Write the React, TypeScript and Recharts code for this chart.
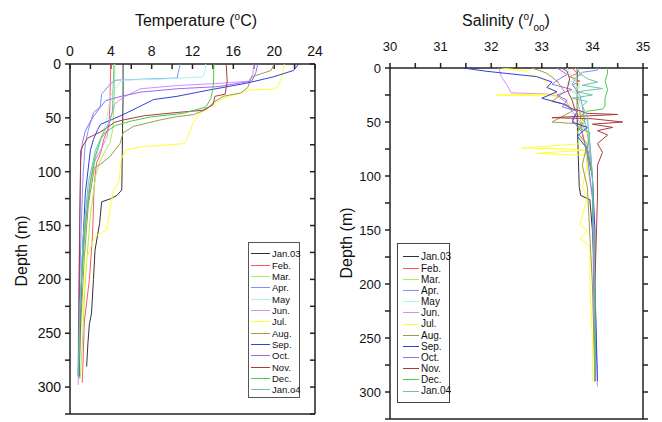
import React from "react";
import { ScatterChart, Scatter, XAxis, YAxis } from "recharts";

// series names / colours (same order in both panels)
const namesT = ["Jan.03", "Feb.", "Mar.", "Apr.", "May", "Jun.", "Jul.", "Aug.", "Sep.", "Oct.", "Nov.", "Dec.", "Jan.o4"];
const namesS = ["Jan.03", "Feb.", "Mar.", "Apr.", "May", "Jun.", "Jul.", "Aug.", "Sep.", "Oct.", "Nov.", "Dec.", "Jan.04"];
const colors = ["#333333", "#ff5a5a", "#a6f05a", "#7b93ff", "#a8f5ee", "#d78cff", "#ffff33", "#9c9c4a", "#3340d9", "#9a6cf0", "#a83c3c", "#4cc94c", "#6cc4a8"];

// temperature profiles: [depth, temp]
const tJan03 = [[0, 5.2], [30, 5.2], [60, 5.15], [100, 5.1], [117, 5.07], [122, 4.6], [125, 4.0], [128, 3.1], [148, 2.9], [173, 2.45], [200, 2.3], [232, 2.1], [241, 1.9], [260, 1.75], [281, 1.63]];
const tFeb = [[0, 4.0], [20, 3.95], [42, 3.9], [58, 3.8], [70, 3.3], [83, 3.0], [92, 2.6], [105, 2.45], [117, 2.35], [160, 2.2], [200, 1.9], [240, 1.4], [270, 1.3], [296, 1.2]];
const tMar = [[0, 4.4], [30, 4.35], [60, 4.2], [74, 3.9], [80, 3.5], [89, 3.0], [104, 2.5], [140, 2.0], [200, 1.5], [260, 1.2], [292, 1.0]];
const tApr = [[0, 10.8], [8, 10.6], [13, 10.5], [15, 4.5], [18, 4.0], [28, 3.1], [40, 2.95], [45, 2.3], [61, 1.8], [74, 1.5], [100, 1.3], [150, 1.1], [220, 0.9], [290, 0.8]];
const tMay = [[0, 13.3], [8, 13.2], [12, 13.0], [14, 9.0], [15, 5.1], [23, 4.4], [31, 3.9], [40, 3.8], [55, 3.5], [75, 2.9], [100, 2.2], [150, 1.5], [200, 1.1], [250, 0.9], [290, 0.8]];
const tJun = [[0, 18.0], [10, 17.9], [16, 17.5], [18, 14.6], [20, 10.5], [23, 6.9], [31, 5.2], [37, 4.4], [49, 4.0], [68, 3.6], [80, 3.0], [92, 2.3], [120, 1.8], [170, 1.3], [230, 1.0], [298, 0.8]];
const tJul = [[0, 21.0], [10, 20.8], [21, 20.4], [23.5, 19.8], [24, 17.5], [33, 14.7], [46, 12.7], [54, 12.1], [71, 11.4], [74, 11.1], [77, 6.9], [80, 5.4], [89, 5.0], [110, 4.8], [117, 4.25], [136, 3.9], [154, 3.6], [160, 2.45], [168, 2.1], [182, 1.6], [219, 1.3], [256, 1.0], [290, 0.82]];
const tAug = [[0, 20.0], [6, 19.7], [12, 17.8], [22, 17.4], [27, 16.7], [30, 15.0], [36, 14.0], [42, 13.4], [47, 12.1], [49, 10.4], [52, 8.8], [58, 6.2], [64, 5.2], [74, 4.9], [86, 3.9], [93, 3.0], [96, 2.4], [130, 1.8], [180, 1.4], [250, 1.0], [292, 0.9]];
const tSep = [[0, 22.4], [6, 21.9], [12, 19.9], [18, 17.2], [24, 13.7], [30, 10.5], [33, 8.2], [41, 6.5], [47, 5.2], [52, 4.0], [56, 3.0], [61, 2.7], [70, 2.3], [80, 2.0], [120, 1.5], [180, 1.2], [240, 1.0], [290, 0.9]];
const tOct = [[0, 18.4], [8, 18.2], [16, 17.8], [21, 14.5], [23, 10.5], [26, 7.0], [30, 5.0], [34, 3.5], [41, 2.9], [50, 2.2], [62, 1.5], [74, 1.2], [90, 1.05], [150, 0.95], [220, 0.85], [289, 0.8]];
const tNov = [[0, 15.3], [16, 15.4], [28, 15.2], [30, 14.2], [38, 14.0], [43, 13.0], [45, 10.5], [48, 7.3], [52, 5.2], [54, 4.4], [63, 3.0], [69, 1.7], [77, 1.2], [80, 1.05], [150, 0.95], [220, 0.9], [288, 0.85]];
const tDec = [[0, 14.1], [20, 14.05], [32, 13.8], [40, 13.3], [46, 11.0], [49, 8.0], [53, 6.0], [57, 4.5], [63, 3.5], [70, 3.0], [85, 2.5], [110, 2.0], [150, 1.5], [220, 1.0], [290, 0.8]];
const tJan04 = [[0, 4.3], [45, 4.15], [55, 3.8], [65, 3.2], [80, 2.5], [110, 1.8], [160, 1.3], [220, 1.0], [290, 0.85]];

// salinity profiles: [depth, salinity]
const sJan03 = [[0, 33.7], [20, 33.7], [50, 33.7], [80, 33.72], [110, 33.74], [118, 33.77], [122, 33.95], [150, 34.0], [200, 34.05], [250, 34.05], [280, 34.05]];
const sFeb = [[0, 33.6], [5, 33.7], [8, 33.55], [12, 33.75], [16, 33.6], [20, 33.7], [30, 33.7], [40, 33.75], [50, 33.78], [60, 33.8], [80, 33.9], [100, 34.0], [150, 34.02], [200, 34.05], [285, 34.05]];
const sMar = [[0, 33.65], [6, 33.8], [10, 33.6], [15, 33.75], [22, 33.65], [30, 33.75], [40, 33.7], [50, 33.8], [60, 33.7], [70, 33.85], [90, 33.9], [120, 34.0], [200, 34.04], [290, 34.05]];
const sApr = [[0, 34.1], [2, 34.1], [4, 33.8], [8, 33.7], [15, 33.6], [25, 33.75], [35, 33.8], [50, 33.85], [70, 33.95], [100, 34.0], [200, 34.05], [290, 34.05]];
const sMay = [[0, 33.5], [5, 33.55], [10, 33.7], [14, 33.5], [18, 33.75], [22, 33.6], [27, 33.8], [35, 33.7], [50, 33.9], [100, 34.0], [200, 34.05], [290, 34.05]];
const sJun = [[0, 32.15], [8, 32.2], [15, 32.3], [23, 32.4], [24, 33.1], [26, 33.3], [32, 33.5], [40, 33.6], [50, 33.75], [60, 33.9], [100, 34.0], [200, 34.05], [295, 34.1]];
const sJul = [[0, 32.2], [1, 32.4], [3, 32.7], [7, 32.8], [9, 33.0], [15, 33.1], [20, 33.2], [24, 33.3], [25, 32.1], [26, 33.3], [30, 33.5], [40, 33.7], [50, 33.8], [60, 33.9], [70, 33.8], [74, 32.6], [75, 33.5], [76, 33.9], [79, 32.9], [81, 33.9], [90, 33.9], [110, 33.8], [120, 33.9], [145, 33.75], [150, 33.9], [158, 33.75], [165, 33.95], [200, 33.95], [250, 34.0], [290, 34.0]];
const sAug = [[0, 32.8], [3, 33.0], [5, 33.1], [12, 33.3], [22, 33.45], [31, 33.2], [34, 33.5], [40, 33.6], [50, 33.2], [52, 33.8], [60, 33.7], [70, 33.9], [90, 33.8], [110, 33.9], [200, 34.0], [290, 34.05]];
const sSep = [[0, 31.45], [3, 31.9], [5, 32.3], [8, 32.9], [13, 33.2], [18, 33.1], [22, 33.3], [28, 33.0], [33, 33.4], [40, 33.7], [50, 33.6], [55, 33.9], [63, 33.7], [75, 33.9], [100, 34.0], [150, 34.05], [200, 34.05], [290, 34.1]];
const sOct = [[0, 33.3], [6, 33.5], [10, 33.35], [15, 33.2], [20, 33.6], [25, 33.3], [30, 33.5], [36, 33.4], [40, 33.7], [48, 33.6], [60, 33.8], [80, 33.9], [120, 34.0], [290, 34.05]];
const sNov = [[0, 33.4], [3, 33.5], [10, 33.55], [20, 33.5], [30, 33.6], [38, 33.65], [42, 33.9], [43, 34.5], [46, 33.2], [47, 34.0], [50, 34.6], [52, 34.0], [55, 34.4], [58, 34.1], [62, 34.3], [70, 34.1], [78, 34.2], [90, 34.1], [120, 34.1], [200, 34.05], [290, 34.05]];
const sDec = [[0, 34.3], [5, 34.3], [12, 34.25], [20, 34.3], [28, 34.25], [35, 34.25], [38, 34.2], [40, 33.9], [45, 33.75], [50, 33.85], [55, 33.7], [60, 33.95], [75, 33.9], [100, 34.0], [200, 34.05], [290, 34.05]];
const sJan04 = [[0, 33.7], [5, 33.75], [10, 33.9], [13, 34.1], [16, 33.8], [19, 34.2], [22, 33.7], [25, 34.0], [28, 33.6], [31, 33.9], [35, 33.8], [45, 33.9], [70, 33.95], [100, 34.0], [200, 34.05], [290, 34.05]];

const tempProfiles = [tJan03, tFeb, tMar, tApr, tMay, tJun, tJul, tAug, tSep, tOct, tNov, tDec, tJan04];
const salProfiles = [sJan03, sFeb, sMar, sApr, sMay, sJun, sJul, sAug, sSep, sOct, sNov, sDec, sJan04];

const tempTicks = [0, 2, 4, 6, 8, 10, 12, 14, 16, 18, 20, 22, 24];
const salTicks = [30, 30.5, 31, 31.5, 32, 32.5, 33, 33.5, 34, 34.5, 35];
const depthTicks = [0, 25, 50, 75, 100, 125, 150, 175, 200, 225, 250, 275, 300, 325];

const axisColor = "#222";

// @ts-ignore
function Panel(props) {
  const { profiles, domain, ticks, showLabel, margin, topH, bottomH, leftW, rightW, font, fontSize, topTick, rightTick } = props;
  const tickStyle = { fill: "#111", fontSize: fontSize, fontFamily: font };
  return (
    <ScatterChart width={331} height={422} margin={margin}>
      <XAxis xAxisId="top" orientation="top" type="number" dataKey="v" domain={domain} ticks={ticks}
        allowDataOverflow height={topH} stroke={axisColor} strokeWidth={1.5} tick={tickStyle}
        tickSize={topTick.size} tickMargin={topTick.margin}
        tickFormatter={(v: number) => (showLabel(v) ? String(v) : "")} />
      <XAxis xAxisId="bottom" orientation="bottom" type="number" domain={domain} ticks={ticks}
        allowDataOverflow height={bottomH} stroke={axisColor} strokeWidth={1.5} tickSize={5}
        tickFormatter={() => ""} />
      <YAxis yAxisId="left" orientation="left" type="number" dataKey="d" domain={[0, 325]} ticks={depthTicks}
        reversed allowDataOverflow width={leftW} stroke={axisColor} strokeWidth={1.5} tick={tickStyle}
        tickSize={5} tickMargin={4}
        tickFormatter={(d: number) => (d % 50 === 0 && d <= 300 ? String(d) : "")} />
      <YAxis yAxisId="right" orientation="right" type="number" domain={[0, 325]} ticks={depthTicks}
        reversed allowDataOverflow width={rightW} stroke={axisColor} strokeWidth={1.5}
        tickSize={rightTick} tickFormatter={() => ""} />
      {profiles.map((p: number[][], i: number) => (
        <Scatter key={i} xAxisId="top" yAxisId="left" data={p.map(([d, v]) => ({ d, v }))}
          fill={colors[i]} line={{ stroke: colors[i], strokeWidth: 1 }} shape={() => <g />}
          isAnimationActive={false} />
      ))}
    </ScatterChart>
  );
}

// @ts-ignore
function LegendBox(props) {
  const { names, left, top, width, height, firstRow, rowH, lineX, lineW, font, fontSize, border } = props;
  return (
    <div style={{ position: "absolute", left, top, width, height, border, boxSizing: "border-box", background: "#fff" }}>
      {names.map((n: string, i: number) => (
        <div key={n} style={{ position: "absolute", left: lineX, top: firstRow + i * rowH - rowH / 2, height: rowH, display: "flex", alignItems: "center", whiteSpace: "nowrap" }}>
          <span style={{ display: "inline-block", width: lineW, borderTop: `1.5px solid ${colors[i]}`, marginRight: 2 }} />
          <span style={{ fontSize, fontFamily: font, color: "#111", lineHeight: rowH + "px" }}>{n}</span>
        </div>
      ))}
    </div>
  );
}

const sans = '"Liberation Sans", Arial, sans-serif';
const narrow = '"Liberation Sans Narrow", "Liberation Sans", Arial, sans-serif';

export default function App() {
  return (
    <div style={{ position: "absolute", left: 0, top: 0, width: 662, height: 422, background: "#fff", fontFamily: sans, color: "#111" }}>
      <div style={{ position: "absolute", left: 0, top: 0 }}>
        <Panel profiles={tempProfiles} domain={[0, 24]} ticks={tempTicks} showLabel={(v: number) => v % 4 === 0}
          margin={{ top: 34, bottom: 0, left: 30, right: 10 }} topH={30} bottomH={8} leftW={40} rightW={6}
          font={sans} fontSize={14} topTick={{ size: -5, margin: 13 }} rightTick={-5} />
      </div>
      <div style={{ position: "absolute", left: 331, top: 0 }}>
        <Panel profiles={salProfiles} domain={[30, 35]} ticks={salTicks} showLabel={(v: number) => Number.isInteger(v)}
          margin={{ top: 38, bottom: 0, left: 19, right: 11 }} topH={30} bottomH={3} leftW={40} rightW={8}
          font={narrow} fontSize={13} topTick={{ size: 5, margin: 12 }} rightTick={5} />
      </div>

      <div style={{ position: "absolute", left: 0, width: 392, top: 11, textAlign: "center", fontSize: 16, fontFamily: sans }}>
        Temperature (<sup style={{ fontSize: 10 }}>o</sup>C)
      </div>
      <div style={{ position: "absolute", left: 360, width: 292, top: 11, textAlign: "center", fontSize: 16, fontFamily: narrow }}>
        Salinity (<sup style={{ fontSize: 10 }}>o</sup>/<sub style={{ fontSize: 10 }}>oo</sub>)
      </div>
      <div style={{ position: "absolute", left: 22, top: 251, transform: "translate(-50%, -50%) rotate(-90deg)", fontSize: 16, whiteSpace: "nowrap", fontFamily: sans }}>
        Depth (m)
      </div>
      <div style={{ position: "absolute", left: 347, top: 243, transform: "translate(-50%, -50%) rotate(-90deg)", fontSize: 16, whiteSpace: "nowrap", fontFamily: narrow }}>
        Depth (m)
      </div>

      <LegendBox names={namesT} left={248} top={242} width={52} height={156} firstRow={11} rowH={11.33}
        lineX={2} lineW={19} font={sans} fontSize={9.5} border="1px solid #555" />
      <LegendBox names={namesS} left={397} top={243} width={53} height={160} firstRow={13} rowH={11.17}
        lineX={5} lineW={16} font={narrow} fontSize={10} border="1.5px solid #444" />
    </div>
  );
}
